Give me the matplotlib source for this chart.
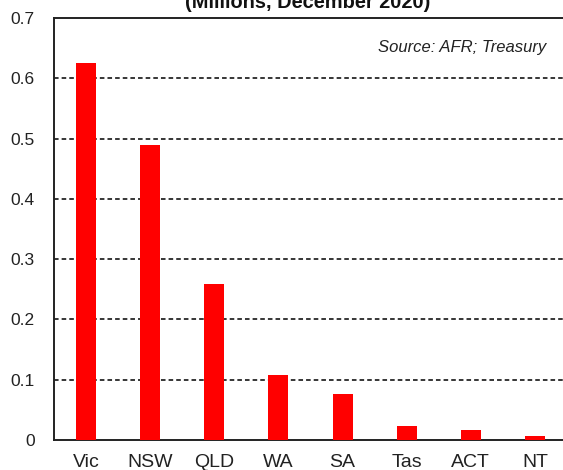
import matplotlib.pyplot as plt

# Population by state (millions, December 2020)
states = ["Vic", "NSW", "QLD", "WA", "SA", "Tas", "ACT", "NT"]
values = [0.625, 0.490, 0.259, 0.108, 0.077, 0.024, 0.017, 0.007]
yticks = [0, 0.1, 0.2, 0.3, 0.4, 0.5, 0.6, 0.7]
ytick_labels = ["0", "0.1", "0.2", "0.3", "0.4", "0.5", "0.6", "0.7"]

plt.rcParams["font.family"] = ["Liberation Sans", "DejaVu Sans"]

W, H = 563, 470
fig = plt.figure(figsize=(W / 100, H / 100), dpi=100)
# axes spans from x=54 px to past the right edge (right spine cropped)
ax = fig.add_axes([54 / W, 1 - 440 / H, 513 / W, (440 - 18) / H])

x = list(range(len(states)))
ax.bar(x, values, width=0.31, color="#ff0000", zorder=3)

ax.set_xlim(-0.5, len(states) - 0.5)
ax.set_ylim(0, 0.7)
ax.set_yticks(yticks)
ax.set_yticklabels(ytick_labels)
ax.set_xticks(x)
ax.set_xticklabels(states)
ax.tick_params(axis="both", length=0, colors="#222222")
ax.tick_params(axis="x", pad=10, labelsize=14)
ax.tick_params(axis="y", pad=14, labelsize=12.5)

for v in yticks[1:-1]:
    ax.axhline(v, color="black", linestyle=(0, (3, 2)), linewidth=1.1, zorder=1)

for side in ["left", "bottom", "top"]:
    ax.spines[side].set_linewidth(1.4)
    ax.spines[side].set_color("#222222")
ax.spines["right"].set_visible(False)

ax.text(0.959, 0.93, "Source: AFR; Treasury", transform=ax.transAxes,
        ha="right", va="center", fontsize=12, style="italic", color="#222222")

# title is partly cropped at the top, as in the source image
fig.text(308 / W, 1 - 3 / H, "(Millions, December 2020)", ha="center", va="center",
         fontsize=14.4, fontweight="bold", color="#111111")

fig.savefig("out.png", dpi=100)
